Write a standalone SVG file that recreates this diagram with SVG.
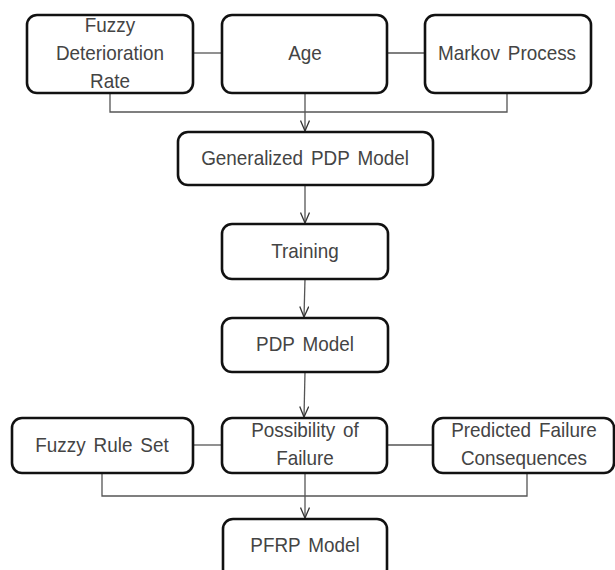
<svg xmlns="http://www.w3.org/2000/svg" width="615" height="570" viewBox="0 0 615 570">
<defs>
<style>
.box{fill:#fff;stroke:#111;stroke-width:2.6}
.t{font-family:"Liberation Sans",Arial,sans-serif;font-size:21px;fill:#444;text-anchor:middle;word-spacing:3px}
.c{fill:none;stroke:#555;stroke-width:1.3}
</style>
<marker id="arr" viewBox="0 0 12 10" refX="11" refY="5" markerWidth="12" markerHeight="10" markerUnits="userSpaceOnUse" orient="auto">
<path d="M0.5,0.5 L11,5 L0.5,9.5" fill="none" stroke="#333" stroke-width="1.3"/>
</marker>
</defs>
<g id="connectors">
<line class="c" x1="193" y1="53" x2="222" y2="53"/>
<line class="c" x1="387" y1="53" x2="425" y2="53"/>
<polyline class="c" points="110,93 110,112 507,112 507,93"/>
<line class="c" x1="305" y1="93" x2="305" y2="131" marker-end="url(#arr)"/>
<line class="c" x1="305" y1="185" x2="305" y2="223" marker-end="url(#arr)"/>
<line class="c" x1="305" y1="279" x2="304" y2="317" marker-end="url(#arr)"/>
<line class="c" x1="305" y1="372" x2="304" y2="417" marker-end="url(#arr)"/>
<line class="c" x1="193" y1="445" x2="222" y2="445"/>
<line class="c" x1="387" y1="445" x2="433" y2="445"/>
<polyline class="c" points="102,473 102,496 527,496 527,473"/>
<line class="c" x1="305" y1="473" x2="305" y2="518" marker-end="url(#arr)"/>
</g>
<g id="n-fdr">
<rect class="box" x="27" y="15" width="166" height="78" rx="10"/>
<g transform="scale(0.9 1)">
<text class="t" x="122.2" y="32">Fuzzy</text>
<text class="t" x="122.2" y="60">Deterioration</text>
<text class="t" x="122.2" y="88">Rate</text>
</g>
</g>
<g id="n-age">
<rect class="box" x="222" y="15" width="165" height="78" rx="10"/>
<text class="t" x="338.9" y="60" transform="scale(0.9 1)">Age</text>
</g>
<g id="n-markov">
<rect class="box" x="425" y="15" width="166" height="78" rx="10"/>
<text class="t" x="563.3" y="60" transform="scale(0.9 1)">Markov Process</text>
</g>
<g id="n-gen">
<rect class="box" x="178" y="132" width="255" height="53" rx="10"/>
<text class="t" x="338.9" y="165" transform="scale(0.9 1)">Generalized PDP Model</text>
</g>
<g id="n-training">
<rect class="box" x="222" y="224" width="166" height="55" rx="10"/>
<text class="t" x="338.9" y="258" transform="scale(0.9 1)">Training</text>
</g>
<g id="n-pdp">
<rect class="box" x="222" y="318" width="166" height="54" rx="10"/>
<text class="t" x="338.9" y="351" transform="scale(0.9 1)">PDP Model</text>
</g>
<g id="n-frs">
<rect class="box" x="12" y="418" width="181" height="55" rx="10"/>
<text class="t" x="113.3" y="452" transform="scale(0.9 1)">Fuzzy Rule Set</text>
</g>
<g id="n-pof">
<rect class="box" x="222" y="418" width="165" height="55" rx="10"/>
<g transform="scale(0.9 1)">
<text class="t" x="338.9" y="437">Possibility of</text>
<text class="t" x="338.9" y="465">Failure</text>
</g>
</g>
<g id="n-pfc">
<rect class="box" x="433" y="418" width="181" height="55" rx="10"/>
<g transform="scale(0.9 1)">
<text class="t" x="582.2" y="437">Predicted Failure</text>
<text class="t" x="582.2" y="465">Consequences</text>
</g>
</g>
<g id="n-pfrp">
<rect class="box" x="223" y="519" width="164" height="60" rx="10"/>
<text class="t" x="338.9" y="552" transform="scale(0.9 1)">PFRP Model</text>
</g>
</svg>
